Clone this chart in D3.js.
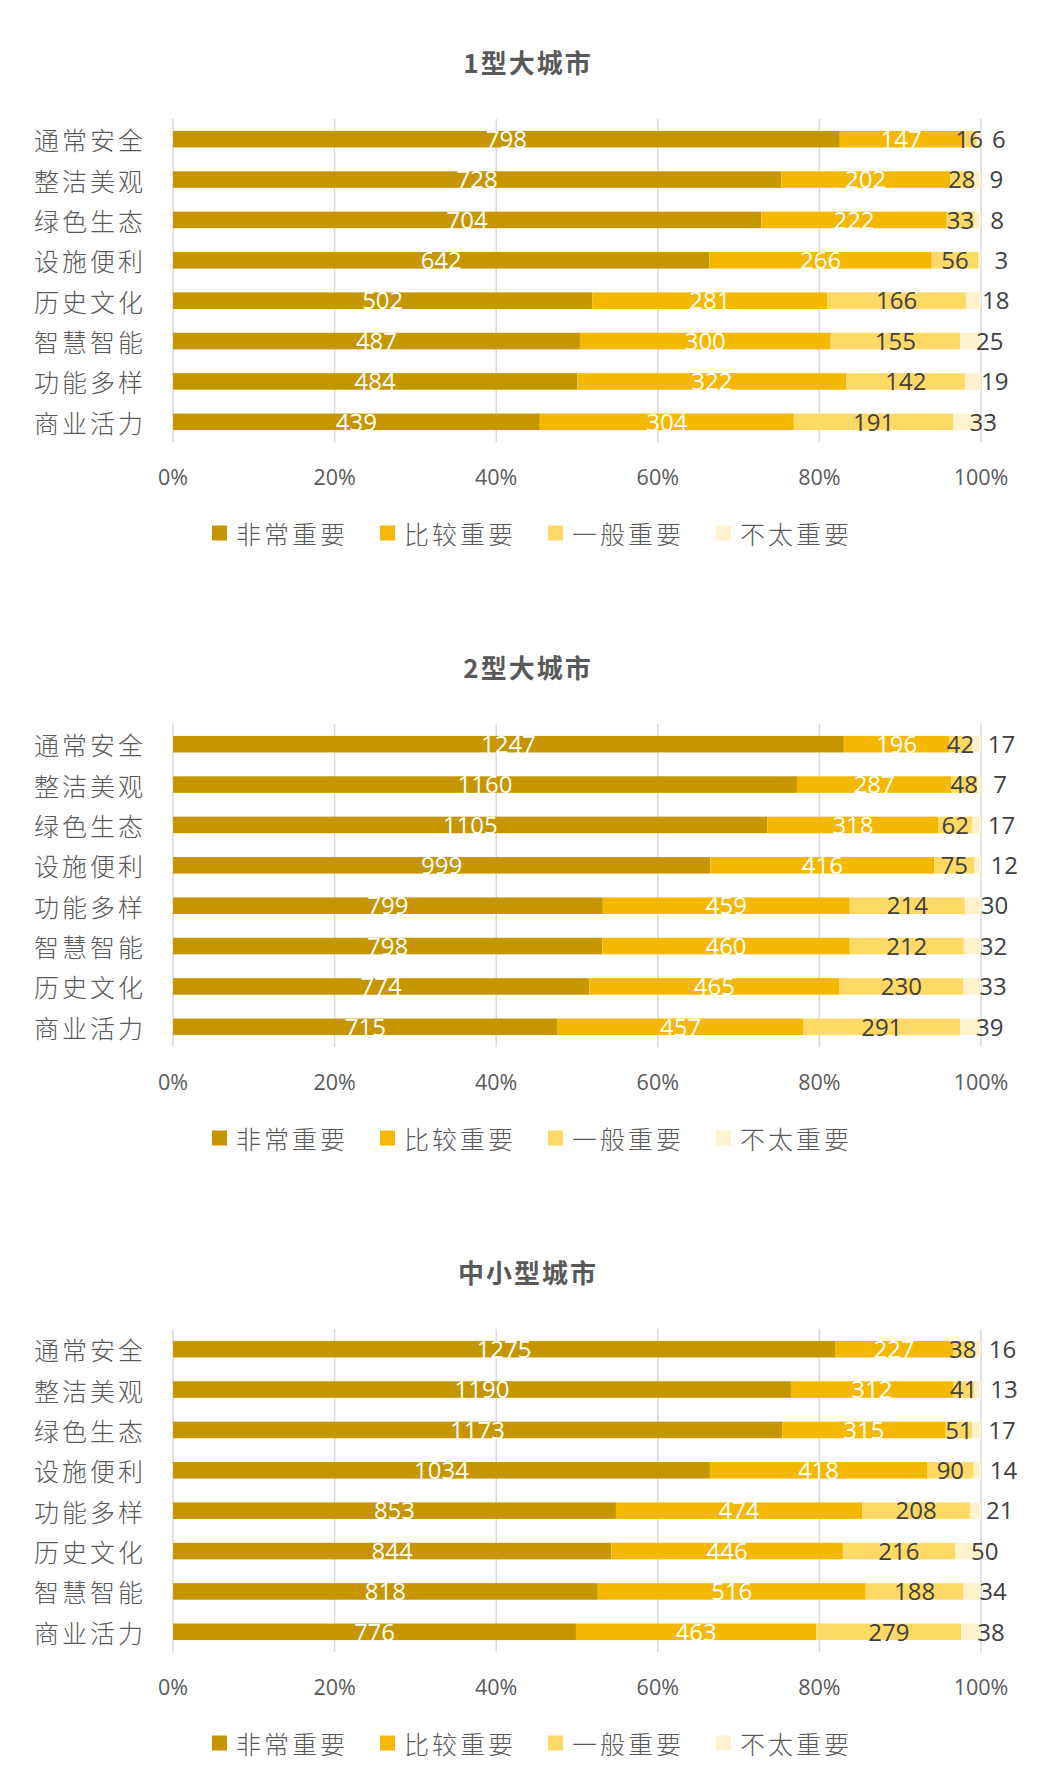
<!DOCTYPE html>
<html>
<head>
<meta charset="utf-8">
<script src="https://cdn.jsdelivr.net/npm/d3@7"></script>
<style>
  html, body { margin: 0; padding: 0; background: #ffffff; }
  svg { display: block; }
</style>
</head>
<body>
<div id="chart"></div>
<script>
// ---------- DATA ----------
const seriesNames = ["非常重要", "比较重要", "一般重要", "不太重要"];
const tickValues = [0, 0.2, 0.4, 0.6, 0.8, 1.0];
const tickLabels = ["0%", "20%", "40%", "60%", "80%", "100%"];

const titles = ["1型大城市", "2型大城市", "中小型城市"];

const cats1 = ["通常安全", "整洁美观", "绿色生态", "设施便利", "历史文化", "智慧智能", "功能多样", "商业活力"];
const c1Very    = [798, 728, 704, 642, 502, 487, 484, 439];
const c1Rather  = [147, 202, 222, 266, 281, 300, 322, 304];
const c1General = [16, 28, 33, 56, 166, 155, 142, 191];
const c1Not     = [6, 9, 8, 3, 18, 25, 19, 33];

const cats2 = ["通常安全", "整洁美观", "绿色生态", "设施便利", "功能多样", "智慧智能", "历史文化", "商业活力"];
const c2Very    = [1247, 1160, 1105, 999, 799, 798, 774, 715];
const c2Rather  = [196, 287, 318, 416, 459, 460, 465, 457];
const c2General = [42, 48, 62, 75, 214, 212, 230, 291];
const c2Not     = [17, 7, 17, 12, 30, 32, 33, 39];

const cats3 = ["通常安全", "整洁美观", "绿色生态", "设施便利", "功能多样", "历史文化", "智慧智能", "商业活力"];
const c3Very    = [1275, 1190, 1173, 1034, 853, 844, 818, 776];
const c3Rather  = [227, 312, 315, 418, 474, 446, 516, 463];
const c3General = [38, 41, 51, 90, 208, 216, 188, 279];
const c3Not     = [16, 13, 17, 14, 21, 50, 34, 38];

// ---------- STYLE ----------
const W = 1049, H = 1785;
const colors = ["#C59600", "#F5B800", "#FFD966", "#FFF2CC"];
const labelColors = ["#ffffff", "#ffffff", "#404040", "#404040"];
const gray = "#595959";
const cjk = "'Noto Sans CJK SC', 'Noto Sans', sans-serif";
const num = "'Open Sans', 'Noto Sans', sans-serif";

const svg = d3.select("#chart").append("svg")
  .attr("width", W).attr("height", H)
  .style("background", "#fff");

const x = d3.scaleLinear().domain([0, 1]).range([173, 981]);

function drawChart(offY, title, cats, very, rather, general, notv) {
  const g = svg.append("g").attr("transform", `translate(0,${offY})`);
  const rows = cats.map((c, i) => ({
    cat: c, s0: very[i], s1: rather[i], s2: general[i], s3: notv[i]
  }));
  const keys = ["s0", "s1", "s2", "s3"];
  const stacked = d3.stack().keys(keys).offset(d3.stackOffsetExpand)(rows);

  const y = d3.scaleBand().domain(cats).range([119, 442])
    .paddingInner(0.59).paddingOuter(0.295);

  // title
  g.append("text")
    .attr("x", 528).attr("y", 61)
    .attr("text-anchor", "middle").attr("dominant-baseline", "central")
    .style("font-family", cjk).style("font-weight", 700)
    .style("font-size", "26px").style("letter-spacing", "2px")
    .style("fill", gray).text(title);

  // gridlines
  g.append("g").selectAll("line").data(tickValues).join("line")
    .attr("x1", d => x(d)).attr("x2", d => x(d))
    .attr("y1", 119).attr("y2", 442)
    .attr("stroke", "#D9D9D9").attr("stroke-width", 1.5);

  // tick labels
  g.append("g").selectAll("text").data(tickValues).join("text")
    .attr("x", d => x(d)).attr("y", 476)
    .attr("text-anchor", "middle").attr("dominant-baseline", "central")
    .style("font-family", num).style("font-size", "21.5px")
    .style("fill", gray).text((d, i) => tickLabels[i]);

  // category labels
  g.append("g").selectAll("text").data(cats).join("text")
    .attr("x", 146).attr("y", d => y(d) + y.bandwidth() / 2)
    .attr("text-anchor", "end").attr("dominant-baseline", "central")
    .style("font-family", cjk).style("font-weight", 300)
    .style("font-size", "25px").style("letter-spacing", "3px")
    .style("fill", gray).text(d => d);

  // bars
  const layers = g.append("g").selectAll("g").data(stacked).join("g")
    .attr("fill", (d, i) => colors[i]);
  layers.selectAll("rect").data(d => d).join("rect")
    .attr("x", d => x(d[0]))
    .attr("width", d => x(d[1]) - x(d[0]))
    .attr("y", d => y(d.data.cat))
    .attr("height", y.bandwidth());

  // value labels
  stacked.forEach((layer, si) => {
    g.append("g").selectAll("text").data(layer).join("text")
      .attr("x", d => si === 3 ? x(d[0]) + 16 : (x(d[0]) + x(d[1])) / 2)
      .attr("y", d => y(d.data.cat) + y.bandwidth() / 2 + 8.8)
      .attr("text-anchor", si === 3 ? "start" : "middle")
      .style("font-family", num).style("font-size", "24px")
      .style("fill", labelColors[si])
      .text(d => d.data[layer.key]);
  });

  // legend
  const legX = [212, 380, 548, 716];
  const leg = g.append("g").selectAll("g").data(seriesNames).join("g")
    .attr("transform", (d, i) => `translate(${legX[i]},533)`);
  leg.append("rect").attr("x", 0).attr("y", -7.5)
    .attr("width", 15).attr("height", 15)
    .attr("fill", (d, i) => colors[i]);
  leg.append("text").attr("x", 24).attr("y", 0)
    .attr("dominant-baseline", "central")
    .style("font-family", cjk).style("font-weight", 300)
    .style("font-size", "25px").style("letter-spacing", "3px")
    .style("fill", gray).text(d => d);
}

drawChart(0, titles[0], cats1, c1Very, c1Rather, c1General, c1Not);
drawChart(605, titles[1], cats2, c2Very, c2Rather, c2General, c2Not);
drawChart(1210, titles[2], cats3, c3Very, c3Rather, c3General, c3Not);
</script>
</body>
</html>
